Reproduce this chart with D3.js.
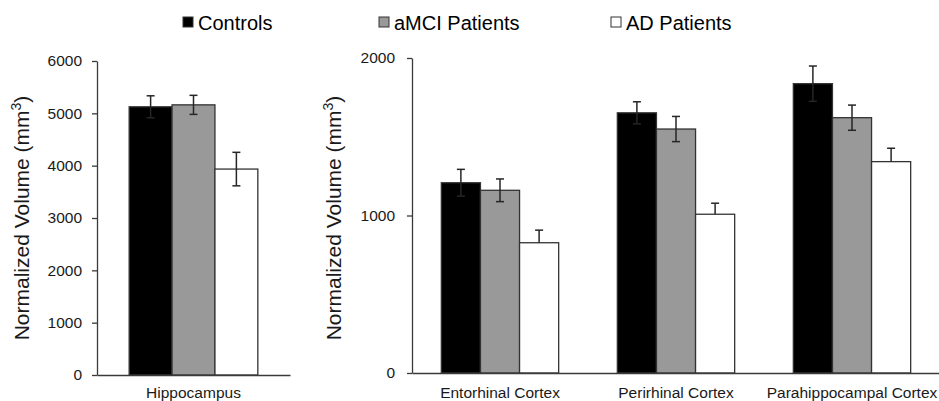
<!DOCTYPE html>
<html>
<head>
<meta charset="utf-8">
<script src="https://cdn.jsdelivr.net/npm/d3@7"></script>
<style>
  body { margin: 0; background: #fff; }
  svg { display: block; font-family: "Liberation Sans", Arial, sans-serif; }
  .axis path, .axis line { stroke: #3a3a3a; stroke-width: 1.3; }
  .axis text { fill: #1a1a1a; }
  .y-title { font-size: 21px; fill: #1a1a1a; }
  .legend text { font-size: 20px; fill: #000; }
</style>
</head>
<body>
<div id="chart"></div>
<script>
// groups (series) and regions (categories)
const groups = ['Controls', 'aMCI Patients', 'AD Patients'];
const leftRegions = ['Hippocampus'];
const rightRegions = ['Entorhinal Cortex', 'Perirhinal Cortex', 'Parahippocampal Cortex'];

// mean volumes, order: Hippocampus, Entorhinal, Perirhinal, Parahippocampal
const controlsMean = [5125, 1208, 1652, 1837];
const controlsErr  = [210, 85, 70, 112];
const amciMean     = [5162, 1160, 1549, 1621];
const amciErr      = [182, 72, 80, 80];
const adMean       = [3935, 827, 1008, 1342];
const adErr        = [320, 80, 70, 85];

const leftTicks = [0, 1000, 2000, 3000, 4000, 5000, 6000];
const rightTicks = [0, 1000, 2000];

const allRegions = leftRegions.concat(rightRegions);
const means = [controlsMean, amciMean, adMean];
const errs = [controlsErr, amciErr, adErr];

// flatten into rows the panels can bind to
const rows = [];
allRegions.forEach((r, ri) => {
    groups.forEach((g, gi) => {
        rows.push({ region: r, group: g, value: means[gi][ri], err: errs[gi][ri] });
    });
});

const width = 939, height = 401;
const svg = d3.select('#chart').append('svg')
    .attr('width', width)
    .attr('height', height);

const color = d3.scaleOrdinal().domain(groups).range(['#000000', '#999999', '#ffffff']);

function drawPanel(cfg) {
    const data = rows.filter(d => cfg.regions.includes(d.region));

    const yScale = d3.scaleLinear().domain([0, cfg.max]).range([cfg.bottom, cfg.top]);
    const x0 = d3.scaleBand().domain(cfg.regions).range([cfg.left, cfg.right]).padding(0);
    const x1 = d3.scaleBand().domain(groups).range([0, x0.bandwidth()])
        .paddingInner(0).paddingOuter(0.75);

    const g = svg.append('g');

    // y axis
    const yAxis = d3.axisLeft(yScale)
        .tickValues(cfg.ticks)
        .tickFormat(d3.format('d'))
        .tickSize(5)
        .tickSizeOuter(0)
        .tickPadding(cfg.tickPad);
    g.append('g')
        .attr('class', 'axis y-axis')
        .attr('transform', `translate(${cfg.left},0)`)
        .call(yAxis)
        .attr('font-family', null)
        .attr('font-size', null)
        .call(a => a.selectAll('text').style('font-size', '15.5px'));

    // bars
    g.selectAll('.bar')
        .data(data)
        .join('rect')
        .attr('class', 'bar')
        .attr('x', d => x0(d.region) + x1(d.group))
        .attr('width', x1.bandwidth())
        .attr('y', d => yScale(d.value))
        .attr('height', d => yScale(0) - yScale(d.value))
        .attr('fill', d => color(d.group))
        .attr('stroke', '#333')
        .attr('stroke-width', 1.3);

    // error bars (some panels only show the upper whisker on the white bars)
    const cap = 4;
    const eb = g.selectAll('.err')
        .data(data)
        .join('g')
        .attr('class', 'err')
        .attr('stroke', '#262626')
        .attr('stroke-width', 1.5);
    const cx = d => x0(d.region) + x1(d.group) + x1.bandwidth() / 2;
    const low = d => cfg.upperOnly.includes(d.group) ? d.value : d.value - d.err;
    eb.append('line')
        .attr('x1', cx).attr('x2', cx)
        .attr('y1', d => yScale(d.value + d.err))
        .attr('y2', d => yScale(low(d)));
    eb.append('line')
        .attr('x1', d => cx(d) - cap).attr('x2', d => cx(d) + cap)
        .attr('y1', d => yScale(d.value + d.err))
        .attr('y2', d => yScale(d.value + d.err));
    eb.filter(d => !cfg.upperOnly.includes(d.group))
        .append('line')
        .attr('x1', d => cx(d) - cap).attr('x2', d => cx(d) + cap)
        .attr('y1', d => yScale(d.value - d.err))
        .attr('y2', d => yScale(d.value - d.err));

    // x axis (baseline + category names)
    const xAxis = d3.axisBottom(x0).tickSize(0).tickSizeOuter(0).tickPadding(cfg.labelPad);
    g.append('g')
        .attr('class', 'axis x-axis')
        .attr('transform', `translate(0,${cfg.bottom})`)
        .call(xAxis)
        .attr('font-family', null)
        .attr('font-size', null)
        .call(a => a.selectAll('text').style('font-size', '15.5px'));

    // y title
    g.append('text')
        .attr('class', 'y-title')
        .attr('transform', `translate(${cfg.titleX},218) rotate(-90)`)
        .attr('text-anchor', 'middle')
        .html('Normalized Volume (mm<tspan dy="-8" font-size="14">3</tspan><tspan dy="8">)</tspan>');
}

drawPanel({ regions: leftRegions, max: 6000, ticks: leftTicks, upperOnly: [],
    left: 97, right: 290, top: 61, bottom: 375, tickPad: 10, labelPad: 12, titleX: 29 });
drawPanel({ regions: rightRegions, max: 2000, ticks: rightTicks, upperOnly: ['AD Patients'],
    left: 412, right: 940, top: 58, bottom: 373, tickPad: 12, labelPad: 14, titleX: 341 });

// legend
const legendX = [183, 379, 611];
const legend = svg.append('g').attr('class', 'legend');
const items = legend.selectAll('g')
    .data(groups)
    .join('g')
    .attr('transform', (d, i) => `translate(${legendX[i]},17)`);
items.append('rect')
    .attr('width', 10).attr('height', 10)
    .attr('fill', d => color(d))
    .attr('stroke', '#333')
    .attr('stroke-width', 1);
items.append('text')
    .attr('x', 15)
    .attr('y', 13)
    .text(d => d);
</script>
</body>
</html>
